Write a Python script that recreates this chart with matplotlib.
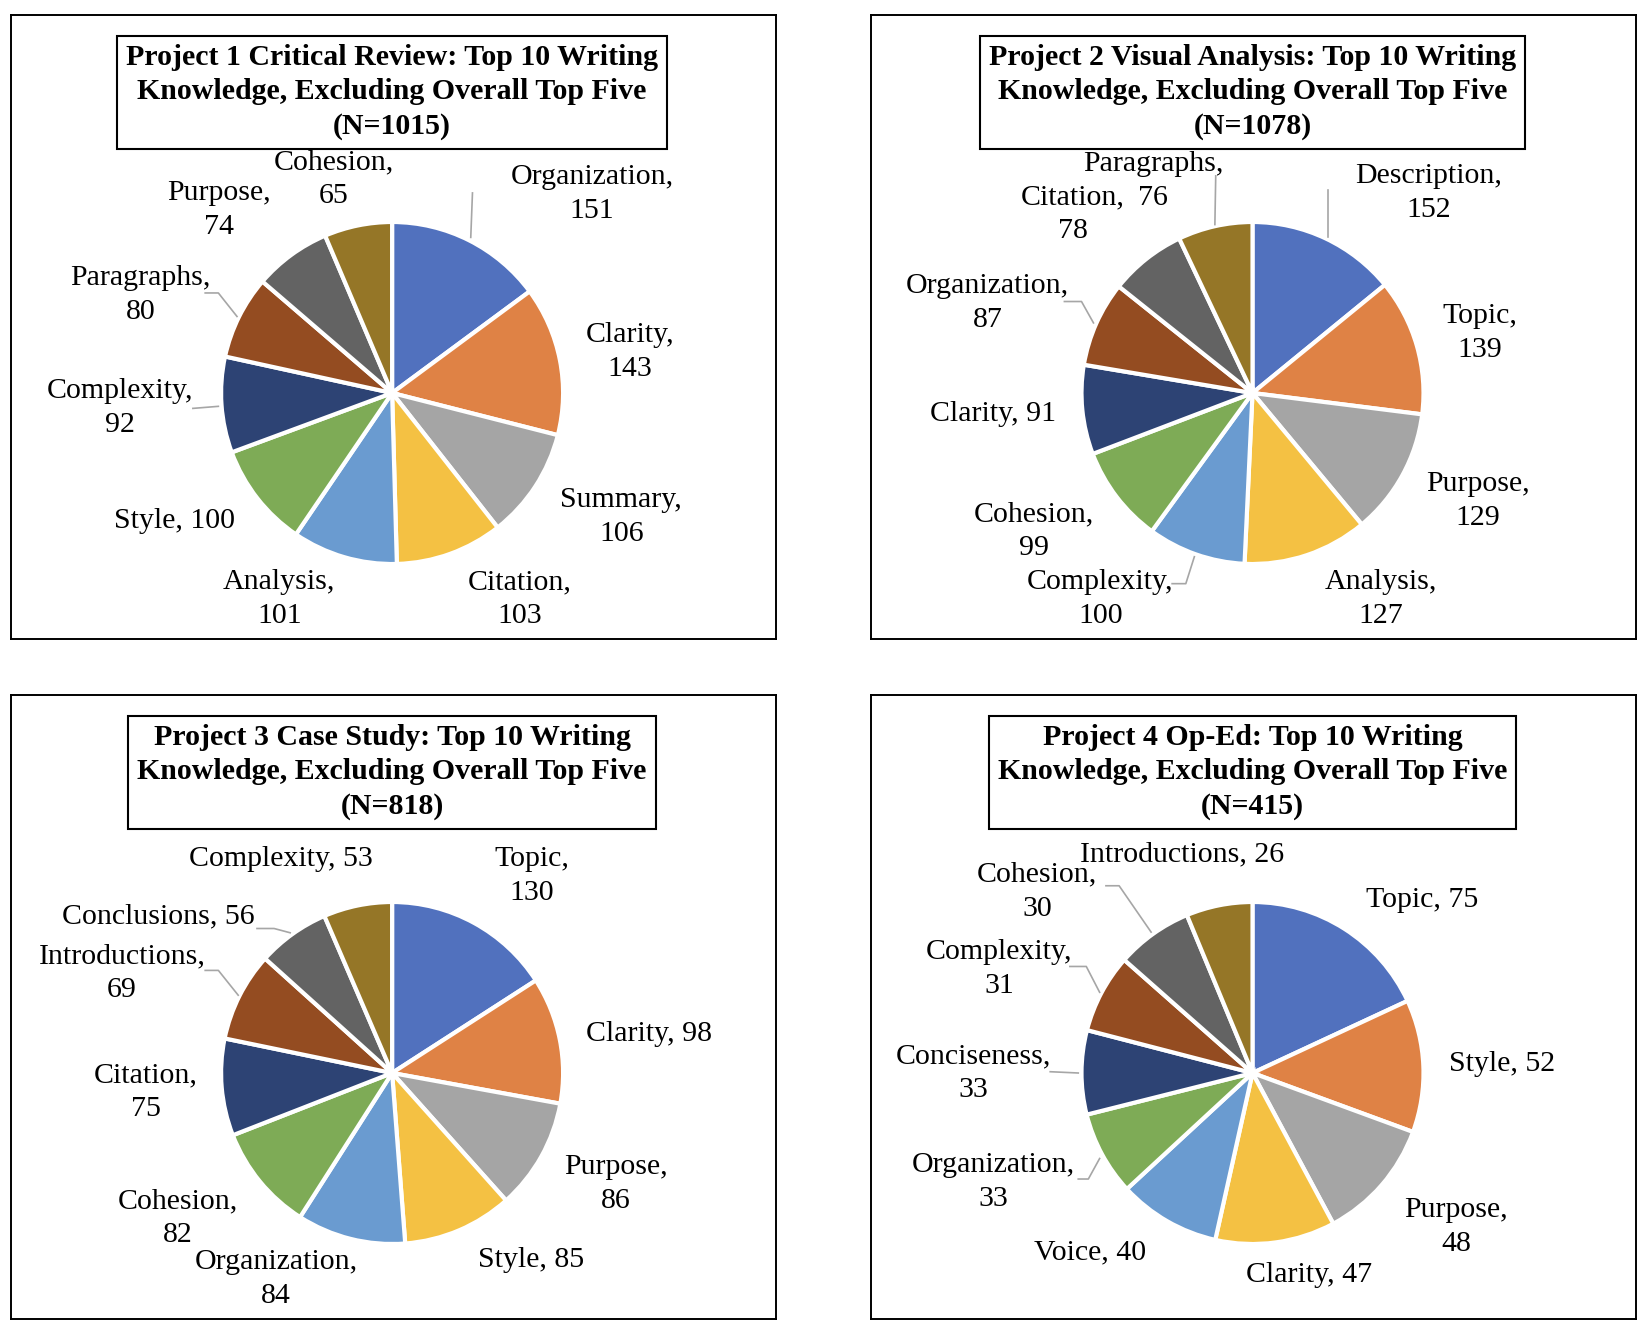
import matplotlib
matplotlib.use("Agg")
import matplotlib.pyplot as plt

# ---- data ----
titles = [
    "Project 1 Critical Review: Top 10 Writing\nKnowledge, Excluding Overall Top Five\n(N=1015)",
    "Project 2 Visual Analysis: Top 10 Writing\nKnowledge, Excluding Overall Top Five\n(N=1078)",
    "Project 3 Case Study: Top 10 Writing\nKnowledge, Excluding Overall Top Five\n(N=818)",
    "Project 4 Op-Ed: Top 10 Writing\nKnowledge, Excluding Overall Top Five\n(N=415)",
]

p1_names = ["Organization", "Clarity", "Summary", "Citation", "Analysis",
            "Style", "Complexity", "Paragraphs", "Purpose", "Cohesion"]
p1_values = [151, 143, 106, 103, 101, 100, 92, 80, 74, 65]

p2_names = ["Description", "Topic", "Purpose", "Analysis", "Complexity",
            "Cohesion", "Clarity", "Organization", "Citation", "Paragraphs"]
p2_values = [152, 139, 129, 127, 100, 99, 91, 87, 78, 76]

p3_names = ["Topic", "Clarity", "Purpose", "Style", "Organization",
            "Cohesion", "Citation", "Introductions", "Conclusions", "Complexity"]
p3_values = [130, 98, 86, 85, 84, 82, 75, 69, 56, 53]

p4_names = ["Topic", "Style", "Purpose", "Clarity", "Voice",
            "Organization", "Conciseness", "Complexity", "Cohesion", "Introductions"]
p4_values = [75, 52, 48, 47, 40, 33, 33, 31, 30, 26]

colors = ["#5171BE", "#DF8245", "#A5A5A5", "#F4C143", "#6A9BD0",
          "#7EAB56", "#2D4374", "#944C21", "#636363", "#957627"]

# ---- label layout (pie radius units, relative to the pie centre) ----
p1_one_line = [False, False, False, False, False, True, False, False, False, False]
p1_pos = [(1.17, 1.165), (1.39, 0.24), (1.34, -0.725), (0.745, -1.205), (-0.66, -1.205),
          (-1.27, -0.75), (-1.59, -0.09), (-1.47, 0.575), (-1.015, 1.07), (-0.34, 1.25)]
p1_leaders = [[(0.46, 0.91), (0.47, 1.17)],
              [(-1.093, 0.585), (-1.016, 0.585), (-0.907, 0.4475)],
              [(-1.165, -0.09), (-1.016, -0.078)]]

p2_one_line = [False, False, False, False, False, False, True, False, False, False]
p2_pos = [(1.03, 1.17), (1.33, 0.35), (1.32, -0.63), (0.75, -1.205), (-0.89, -1.205),
          (-1.28, -0.81), (-1.52, -0.12), (-1.55, 0.525), (-1.05, 1.045), (-0.58, 1.24)]
p2_leaders = [[(0.44, 0.915), (0.44, 1.185)],
              [(-0.22, 0.985), (-0.215, 1.27)],
              [(-1.10, 0.535), (-1.0, 0.535), (-0.93, 0.41)],
              [(-0.47, -1.115), (-0.39, -1.115), (-0.34, -0.9575)]]

p3_one_line = [False, True, False, True, False, False, False, False, True, True]
p3_pos = [(0.817, 1.15), (1.50, 0.23), (1.31, -0.65), (0.81, -1.095), (-0.68, -1.205),
          (-1.255, -0.85), (-1.44, -0.11), (-1.58, 0.585), (-1.37, 0.915), (-0.65, 1.25)]
p3_leaders = [[(-0.79, 0.845), (-0.69, 0.845), (-0.596, 0.82)],
              [(-1.093, 0.60), (-1.016, 0.60), (-0.90, 0.455)]]

p4_one_line = [True, True, False, True, True, False, False, False, False, True]
p4_pos = [(0.99, 1.01), (1.46, 0.05), (1.19, -0.90), (0.33, -1.18), (-0.95, -1.05),
          (-1.515, -0.635), (-1.63, 0.0), (-1.48, 0.61), (-1.26, 1.06), (-0.41, 1.28)]
p4_leaders = [[(-0.857, 1.095), (-0.78, 1.095), (-0.593, 0.824)],
              [(-1.068, 0.623), (-0.972, 0.623), (-0.894, 0.472)],
              [(-1.183, 0.0075), (-1.019, 0.0)],
              [(-1.019, -0.62), (-0.96, -0.62), (-0.894, -0.50)]]

panels = [
    (p1_names, p1_values, p1_one_line, p1_pos, p1_leaders),
    (p2_names, p2_values, p2_one_line, p2_pos, p2_leaders),
    (p3_names, p3_values, p3_one_line, p3_pos, p3_leaders),
    (p4_names, p4_values, p4_one_line, p4_pos, p4_leaders),
]

W, H = 1648, 1334
fig = plt.figure(figsize=(W / 100, H / 100), dpi=100)

serif = "Liberation Serif"
panel_left = [10.6, 871, 10.6, 871]
panel_top = [15, 15, 695, 695]
pw, ph = 765, 624
cx, cy = 381.5, 378   # pie centre inside a panel, px
r = 171               # pie radius, px
line_gap = 0.198      # distance between the two label lines, radius units

for i, (names, values, one_line, pos, leaders) in enumerate(panels):
    ax = fig.add_axes([panel_left[i] / W, 1 - (panel_top[i] + ph) / H, pw / W, ph / H])
    ax.pie(values, colors=colors, startangle=90, counterclock=False, radius=1,
           wedgeprops=dict(edgecolor="white", linewidth=3))
    ax.set_aspect("auto")
    ax.set_xlim(-cx / r, (pw - cx) / r)
    ax.set_ylim(-(ph - cy) / r, cy / r)
    ax.set_frame_on(True)
    for s in ax.spines.values():
        s.set_visible(True)
        s.set_color("black")
        s.set_linewidth(1.4)
    ax.set_xticks([])
    ax.set_yticks([])

    for pts in leaders:
        xs = [p[0] for p in pts]
        ys = [p[1] for p in pts]
        ax.plot(xs, ys, color="#A6A6A6", linewidth=1.2, zorder=1)

    for name, val, single, (x, y) in zip(names, values, one_line, pos):
        if single:
            ax.text(x, y, f"{name}, {val}", ha="center", va="center",
                    fontsize=21.5, family=serif)
        else:
            ax.text(x, y + line_gap / 2, f"{name},", ha="center", va="center",
                    fontsize=21.5, family=serif)
            ax.text(x, y - line_gap / 2, f"{val}", ha="center", va="center",
                    fontsize=21.5, family=serif)

    ax.text(0.0, 1.76, titles[i], ha="center", va="center", fontsize=21.5,
            fontweight="bold", family=serif, linespacing=1.33,
            bbox=dict(boxstyle="square,pad=0.3", facecolor="white",
                      edgecolor="black", linewidth=1.5))

fig.savefig("out.png", dpi=100, facecolor="white")
